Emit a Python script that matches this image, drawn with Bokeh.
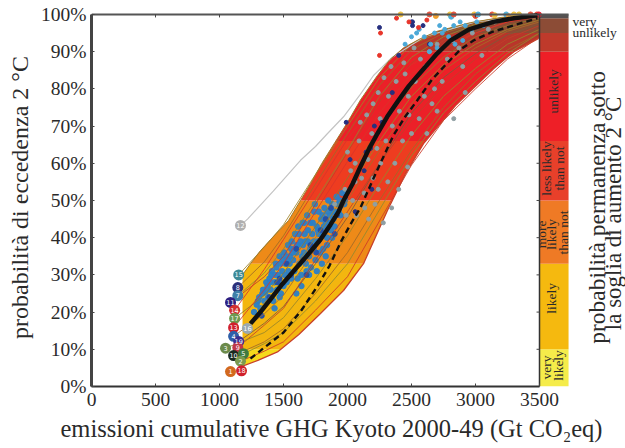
import math
import numpy as np
from bokeh.plotting import figure
from bokeh.models import Label, LinearAxis, FixedTicker, PrintfTickFormatter, Range1d, Title
from bokeh.core.properties import value
from bokeh.embed import file_html
from bokeh.resources import INLINE

FONT = "Liberation Serif"

x_ticks = [0, 500, 1000, 1500, 2000, 2500, 3000, 3500]
y_ticks = [0, 10, 20, 30, 40, 50, 60, 70, 80, 90, 100]

upper_x = [1180, 1242, 1320, 1400, 1539, 1633, 1711, 1800, 1900, 2000, 2101, 2234, 2330, 2437, 2570, 2703, 2961, 3200, 3500]
upper_y = [30, 33, 36.5, 39.5, 44.6, 50, 54.5, 60, 65.5, 71, 77, 83.6, 87.8, 91, 93.5, 95.5, 97.8, 99.2, 100]
lower_x = [1180, 1300, 1453, 1620, 1789, 1969, 2125, 2312, 2450, 2594, 2844, 3141, 3300, 3490]
lower_y = [5.5, 7, 9.3, 14, 19.6, 25.8, 33, 47.3, 57, 65.3, 75.5, 85.4, 90, 93.5]

band_edges = [0, 10, 33, 50, 66, 90, 95, 99, 100]
env_colors = ["#f5d91c", "#f3b60f", "#ee8a18", "#ee3c20", "#ec2028", "#b9352a", "#8d4a33", "#8d4a33"]
bar_colors = ["#f5ec4a", "#f5b90f", "#ef7a25", "#e8402a", "#ee1f27", "#bf3a2b", "#8c4c36", "#555050"]

black_x = [1242, 1320, 1400, 1490, 1578, 1680, 1789, 1867, 1930, 1969, 2040, 2100, 2170, 2234, 2310, 2390, 2480, 2570, 2700, 2805, 2950, 3141, 3300, 3484]
black_y = [16.9, 20, 23.5, 27.5, 31, 35, 39.5, 43.5, 47, 50, 54.5, 59, 64, 68, 72.5, 76.5, 80.8, 84.4, 89.5, 93, 96, 98, 99, 99.8]
dash_x = [1242, 1370, 1500, 1640, 1766, 1860, 1950, 2030, 2100, 2230, 2359, 2450, 2547, 2660, 2781, 2880, 2984, 3130, 3273, 3484]
dash_y = [7.5, 11, 14.5, 20.5, 27, 32.5, 39, 44, 48, 58, 67.5, 72.5, 77, 82.5, 87, 90.5, 93, 95.3, 96.8, 99]

bubble_id = ["15", "8", "7", "11", "14", "17", "13", "16", "4", "19", "9", "3", "10", "5", "2", "1", "18", "12"]
bubble_x = [1150, 1143, 1143, 1086, 1118, 1118, 1110, 1218, 1110, 1150, 1143, 1047, 1110, 1187, 1164, 1086, 1172, 1164]
bubble_y = [30, 26.6, 24.4, 22.6, 20.5, 18.3, 15.8, 15.6, 13.5, 12.1, 10.5, 10.3, 8.3, 8.8, 6.8, 4, 4.2, 43.3]
bubble_c = ["#3d8a96", "#2a2f7a", "#3f7fa8", "#2d1f80", "#d23030", "#6d9a50", "#d0202c", "#9aa8b0", "#2f5fa8",
            "#3a2f90", "#c03848", "#6b8a4a", "#1a2a20", "#3f7a40", "#7a9a50", "#d2691e", "#d0202c", "#b0b0b0"]

line_x = [1350, 1500, 1750, 2000, 2250, 2500, 2750, 3000, 3250, 3500]
thin_lines = {
    "15": [37.5, 43.5, 57.0, 70.0, 83.0, 92.0, 95.5, 98.0, 99.3, 100],
    "8":  [33.5, 40.5, 54.5, 68.0, 81.0, 90.5, 95.0, 97.5, 99.0, 100],
    "7":  [30.5, 37.0, 50.0, 63.5, 78.0, 88.5, 94.0, 97.3, 99.0, 100],
    "11": [29.5, 35.0, 49.0, 63.0, 76.5, 87.0, 93.0, 96.5, 98.6, 99.5],
    "14": [31.5, 39.5, 53.0, 66.5, 78.0, 86.5, 91.5, 95.0, 98.0, 99.5],
    "17": [24.5, 30.5, 43.0, 56.0, 69.5, 80.5, 88.5, 94.0, 97.0, 99],
    "13": [26.0, 33.0, 47.0, 60.5, 73.5, 84.0, 90.5, 95.0, 98.0, 99.5],
    "16": [22.5, 28.0, 40.0, 52.5, 66.0, 78.0, 86.5, 92.0, 96.0, 98.5],
    "4":  [19.5, 24.5, 37.0, 50.0, 63.5, 76.0, 85.0, 91.0, 95.5, 98],
    "19": [17.0, 21.5, 33.0, 45.5, 60.0, 73.5, 83.0, 89.5, 94.5, 97.5],
    "9":  [16.5, 21.0, 34.0, 47.0, 60.0, 71.5, 81.0, 88.0, 93.5, 97],
    "3":  [14.5, 18.5, 29.0, 40.5, 54.5, 67.5, 78.0, 85.5, 92.0, 96],
    "10": [12.0, 15.5, 25.0, 36.0, 50.0, 63.5, 75.0, 84.0, 90.5, 95],
    "5":  [11.5, 14.5, 23.0, 33.0, 47.5, 62.0, 73.5, 82.0, 89.5, 95],
    "2":  [9.5, 12.0, 20.5, 29.5, 44.5, 59.5, 71.5, 80.0, 88.0, 94],
}
thin_colors = ["#a08428", "#a06a28", "#8f8a30", "#c0402a", "#d8352a", "#8f7a2c", "#d8352a", "#a08428",
               "#a86c28", "#7d5a3a", "#c0402a", "#96862c", "#a06a28", "#8f8a30", "#cc3a28"]
line12_x = [1164, 1219, 1420, 1633, 1750, 1844, 1969, 2100, 2203, 2350, 2600, 3000, 3500]
line12_y = [43.3, 45, 52.5, 60.8, 64.5, 68, 72.5, 78.5, 83.6, 88.5, 94, 98, 100]

blue_x = [1270, 1290, 1310, 1320, 1340, 1350, 1365, 1380, 1390, 1400, 1410, 1420, 1430, 1440, 1450, 1455, 1470, 1480,
          1490, 1500, 1505, 1515, 1525, 1535, 1540, 1550, 1560, 1565, 1575, 1585, 1590, 1600, 1610, 1615, 1625, 1635,
          1640, 1650, 1660, 1665, 1675, 1685, 1690, 1700, 1710, 1715, 1725, 1735, 1740, 1750, 1760, 1770, 1775, 1785,
          1795, 1800, 1810, 1820, 1830, 1840, 1850, 1860, 1870, 1880, 1890, 1900, 1915, 1930, 1945, 1960, 1975, 1990,
          1430, 1470, 1510, 1560, 1600, 1640, 1680, 1720, 1760, 1800, 1840, 1880, 1610, 1660, 1700, 1745, 1790, 1830,
          1300, 1335, 1375, 1405, 1445, 1478, 1520, 1548, 1582, 1620, 1652, 1690, 1728, 1768, 1805, 1845, 1885, 1925,
          1360, 1395, 1435, 1462, 1498, 1532, 1572, 1605, 1645, 1672, 1708, 1738, 1778, 1815, 1858, 1895, 1940, 1980]
blue_y = [20, 22, 24, 21, 26, 23, 28, 24, 29, 26, 31, 23, 28, 33, 26, 30, 35, 25, 31, 27, 36, 33, 28, 38, 31, 35, 29,
          39, 34, 31, 41, 36, 29, 43, 33, 39, 30, 44, 36, 41, 33, 46, 39, 35, 44, 32, 41, 37, 47, 34, 43, 39, 47, 36, 45,
          41, 37, 48, 44, 40, 50, 46, 42, 49, 45, 43, 51, 47, 46, 52, 49, 52, 21, 24, 30, 37, 25, 27, 31, 37, 31, 33, 38,
          40, 38, 44, 30, 49, 42, 35,
          23, 25, 27, 30, 32, 33, 35, 33, 37, 41, 38, 42, 44, 42, 46, 47, 47, 49,
          25.5, 28, 30, 28, 34, 34, 36, 38, 35, 39, 37, 39, 41, 43, 44, 47, 50, 50]
blue_c2_x = [1330, 1450, 1525, 1600, 1680, 1755, 1830, 1900, 1390, 1650, 1470, 1560, 1710, 1790, 1870]
blue_c2_y = [19, 28, 33, 37, 30, 36, 45, 41, 24, 34, 29, 30, 38, 42, 48]

gray_x = [1900, 1945, 1980, 1990, 2025, 2040, 2060, 2070, 2090, 2110, 2130, 2135, 2160, 2165, 2190, 2200, 2215, 2230, 2240,
          2255, 2260, 2280, 2300, 2315, 2320, 2345, 2350, 2370, 2380, 2400, 2405, 2430, 2440, 2470, 2475, 2500, 2530, 2560,
          2570, 2600, 2610, 2640, 2680, 2700, 2740, 2780, 2820, 2830, 2870, 2920, 2975, 3050, 3100, 3150, 2200, 2285, 2340,
          2100, 2150, 2240, 2450, 2520, 2480, 2000, 2060, 2700, 2620, 2660, 2900]
gray_y = [49, 48, 53, 46, 58, 50, 60, 46, 66, 56, 52, 48, 61, 45, 68, 56, 49, 64, 53, 72, 60, 44, 66, 55, 78, 48, 70, 60, 82,
          53, 74, 66, 87, 59, 78, 68, 82, 72, 88, 78, 86, 90, 80, 92, 82, 88, 93, 72, 91, 79, 95, 89, 96, 98, 76, 83, 86, 71,
          73, 79, 84, 91, 73, 63, 55, 74, 68, 76, 86]
navy_x = [1920, 1985, 2060, 2130, 2145, 2190, 2210, 2270, 2350, 2400, 2500, 2250, 2508, 2508, 2590, 2640, 2180, 2020, 1990]
navy_y = [46, 51, 47, 58, 63, 53, 70, 71, 79, 89, 98, 96.5, 97, 98, 97, 92, 64, 61, 71]
red_pts_x = [2258, 2250, 2383, 2555, 2620, 2480]
red_pts_y = [95, 89, 99, 96.5, 98.5, 98]
cyan_x = [2450, 2500, 2560, 2600, 2650, 2680, 2720, 2760, 2790, 2830, 2880, 2920, 2970, 3010, 3060, 2640, 2700, 2740, 2540,
          2840, 2900]
cyan_y = [92, 94, 96, 94, 92, 95, 97, 96, 94, 97, 98, 97, 96, 98, 97, 90, 91, 95, 95, 92, 93]
top_x = [2415, 2640, 2690, 2800, 2810, 2830, 2990, 3000, 3020, 3130, 3150, 3240, 3260, 3300, 3340, 3430, 3480, 3495]
top_y = [100, 100, 99.6, 100, 99.4, 100, 100, 99.6, 100, 100, 99.8, 100, 99.5, 100, 100, 100, 100, 100]
top_c = ["#f0c040", "#e8503a", "#f0a030", "#f0c040", "#50b0d8", "#e8503a", "#f0c040", "#e8503a", "#50b0d8", "#e8503a",
         "#f0c040", "#50b0d8", "#e8a040", "#f0c040", "#e8c040", "#e8503a", "#e8503a", "#e82030"]

p = figure(width=625, height=448, output_backend="svg", toolbar_location=None,
           x_range=Range1d(0, 4171.875), y_range=Range1d(0, 101.6),
           x_axis_location=None, y_axis_location=None,
           min_border_left=91, min_border_right=0, min_border_top=8, min_border_bottom=62,
           outline_line_color=None, background_fill_color="white")
p.grid.visible = False

grid = np.linspace(1180, 3500, 1200)
env_hi = np.interp(grid, upper_x, upper_y)
env_lo = np.interp(grid, lower_x, lower_y)
for b0, b1, c in zip(band_edges[:-1], band_edges[1:], env_colors):
    p.varea(x=grid, y1=np.clip(env_lo, b0, b1), y2=np.clip(env_hi, b0, b1), fill_color=c)

p.quad(left=3500, right=3727, bottom=band_edges[:-1], top=band_edges[1:], fill_color=bar_colors, line_color=None)

p.scatter(blue_x, blue_y, size=5.5, color="#2a80c8", alpha=0.95)
p.scatter(blue_c2_x, blue_c2_y, size=5, color="#2450a8")

for (k, ys), c in zip(thin_lines.items(), thin_colors):
    i = bubble_id.index(k)
    p.line([bubble_x[i]] + line_x, [bubble_y[i]] + ys, line_color=c, line_width=1, alpha=0.85)
p.line(line12_x, line12_y, line_color="#c4c4c4", line_width=1.2)
p.line(upper_x, upper_y, line_color="#a07a2a", line_width=1)
p.line(lower_x, lower_y, line_color="#c8402a", line_width=1.3)

p.scatter(gray_x, gray_y, size=4, color="#8f9fa3")
p.scatter(navy_x, navy_y, size=4, color="#27307f")
p.scatter(cyan_x, cyan_y, size=4, color="#4aa8d8")
p.scatter(red_pts_x, red_pts_y, size=4, color="#e8352a")
p.scatter(top_x, top_y, size=5, color=top_c)

p.line(black_x, black_y, line_color="#111111", line_width=4.5)
p.line(dash_x, dash_y, line_color="#111111", line_width=2.4, line_dash="6 4")

p.scatter(bubble_x, bubble_y, size=11, fill_color=bubble_c, line_color=None)
p.text(bubble_x, bubble_y, text=bubble_id, text_color="white", text_font=value("DejaVu Sans"), text_font_size="6.5px",
       text_align="center", text_baseline="middle")

# axes
left = LinearAxis(axis_label="probabilità di eccedenza 2 °C", bounds=(0, 100))
left.ticker = FixedTicker(ticks=y_ticks)
left.formatter = PrintfTickFormatter(format="%d%%")
left.axis_line_color = "#444444"; left.axis_line_width = 3
left.major_tick_in = 3; left.major_tick_out = 0; left.minor_tick_line_color = None
left.major_tick_line_color = "#444444"
left.major_label_text_font = FONT; left.major_label_text_font_size = "19.5px"; left.major_label_text_color = "#2a2a2a"
left.major_label_standoff = 5
left.axis_label_text_font = FONT; left.axis_label_text_font_size = "24px"; left.axis_label_text_font_style = "normal"
left.axis_label_text_color = "#2a2a2a"; left.axis_label_standoff = 5
p.add_layout(left, "left")

bottom = LinearAxis(bounds=(0, 3500))
bottom.ticker = FixedTicker(ticks=x_ticks)
bottom.axis_line_color = "#333333"; bottom.axis_line_width = 2
bottom.major_tick_in = 3; bottom.major_tick_out = 0; bottom.minor_tick_line_color = None
bottom.major_tick_line_color = "#444444"
bottom.major_label_text_font = FONT; bottom.major_label_text_font_size = "19.5px"; bottom.major_label_text_color = "#2a2a2a"
bottom.major_label_standoff = 6
p.add_layout(bottom, "below")

x_title = Title(text="emissioni cumulative GHG Kyoto 2000-49 (Gt CO₂eq)", align="left", offset=-31,
                text_font=FONT, text_font_size="24.5px", text_font_style="normal", text_color="#2a2a2a", standoff=8)
p.add_layout(x_title, "below")

# top and right frame lines with their inward ticks
tick_dx = 23
tick_dy = 0.8
p.segment(x0=[3500], y0=[0], x1=[3500], y1=[100], line_color="#333333", line_width=1.5)
p.segment(x0=[0], y0=[100], x1=[3727], y1=[100], line_color="#555555", line_width=2)
p.segment(x0=[3500 - tick_dx] * len(y_ticks), y0=y_ticks, x1=[3500] * len(y_ticks), y1=y_ticks,
          line_color="#444444", line_width=1)
p.segment(x0=x_ticks, y0=[100 - tick_dy] * len(x_ticks), x1=x_ticks, y1=[100] * len(x_ticks),
          line_color="#444444", line_width=1)

def px_x(v):
    return (v - 91) / 0.128
def px_y(v):
    return (386 - v) / 3.72

def note(txt, x, y, size, vertical=True, color="#2a2a2a", align="center"):
    p.add_layout(Label(x=px_x(x), y=px_y(y), text=txt, text_font=FONT, text_font_size=size, text_color=color,
                       angle=math.pi / 2 if vertical else 0, text_align=align, text_baseline="middle"))

note("very", 572, 21, "13.5px", vertical=False, align="left")
note("unlikely", 572, 32, "13.5px", vertical=False, align="left")
note("unlikely", 553, 91, "13.5px")
note("less likely", 546, 168, "13.5px")
note("than not", 559, 168, "13.5px")
note("more", 541, 234, "13.5px")
note("likely", 551, 234, "13.5px")
note("than not", 563, 232, "13.5px")
note("likely", 551, 298, "13.5px")
note("very", 546, 367, "13.5px")
note("likely", 558, 365, "13.5px")
note("probabilità permanenza sotto", 596, 207, "23.5px")
note("la soglia di aumento 2 °C", 613, 213, "23px")

open("out.html", "w").write(file_html(p, INLINE))
